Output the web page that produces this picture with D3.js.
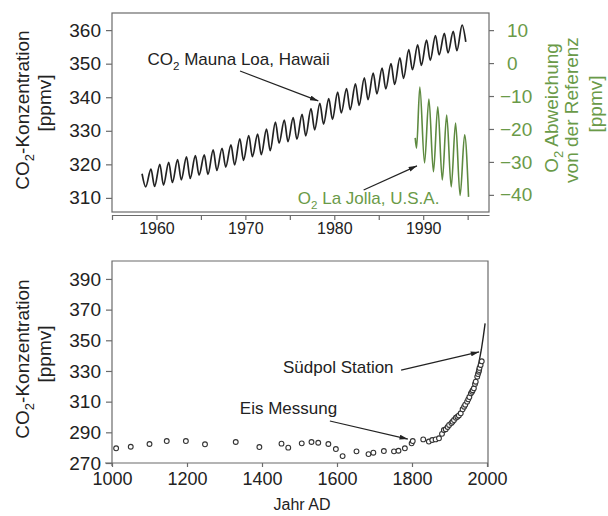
<!DOCTYPE html>
<meta charset="utf-8">
<style>
body { margin: 0; background: #fff; }
text { font-family: "Liberation Sans", Arial, sans-serif; }
</style>
<body id="chart"></body>
<script src="https://cdn.jsdelivr.net/npm/d3@7"></script>
<script>
// Mauna Loa CO2: seasonal peak (spring) and trough (autumn) per year, ppmv
var mlYears = [1958,1959,1960,1961,1962,1963,1964,1965,1966,1967,1968,1969,1970,1971,1972,1973,1974,1975,
               1976,1977,1978,1979,1980,1981,1982,1983,1984,1985,1986,1987,1988,1989,1990,1991,1992,1993,1994];
var mlPeak = [317.2,318.6,320.0,320.6,321.4,322.2,322.6,322.8,324.3,324.8,325.8,327.6,328.6,329.0,330.5,332.6,333.2,333.9,
              334.9,336.6,338.2,339.6,341.5,342.6,344.0,345.8,347.2,348.7,350.0,351.7,354.2,355.6,357.0,358.4,359.0,359.6,361.5];
var mlTrough = [313.3,313.4,313.8,314.6,315.4,315.8,316.8,317.0,318.2,319.2,319.8,321.2,322.3,322.9,324.1,326.3,326.8,327.5,
                328.5,330.3,332.0,333.4,335.3,336.3,337.6,339.3,341.0,342.5,343.8,345.6,348.2,349.5,351.0,352.6,353.2,353.9,356.5];

// La Jolla O2 deviation from reference, ppmv
var o2Years = [1989.10,1989.25,1989.62,1990.15,1990.64,1991.15,1991.64,1992.15,1992.64,1993.15,1993.64,1994.15,1994.66,1995.10];
var o2Dev = [-22.7,-25.8,-7.3,-30.3,-10.9,-33.0,-13.3,-35.5,-15.8,-37.6,-18.2,-40.2,-21.8,-40.6];

// ice core CO2 (Eis Messung)
var iceYears = [1011,1050,1100,1146,1197,1248,1330,1393,1452,1470,1506,1532,1550,1577,1597,1615,1652,1684,1697,1725,
                1752,1764,1781,1799,1802,1830,1845,1854,1863,1872,1880,1885,1890,1895,1899,1905,1908,1912,1917,1921,
                1925,1930,1935,1939,1942,1947,1950,1953,1957,1960,1962,1965,1968,1970,1974,1976,1978,1979,1980,1983,1986];
var iceCO2 = [279.6,280.6,282.4,284.3,284.3,282.2,283.7,280.4,282.6,280.0,282.8,283.7,283.2,282.4,279.1,274.5,277.6,275.8,276.7,277.8,
              277.6,278.0,279.6,282.8,284.3,285.4,284.0,285.0,285.4,286.1,289.0,291.5,292.0,293.5,294.8,296.0,296.9,298.0,299.5,300.2,
              301.0,302.4,305.0,306.7,308.0,310.0,311.5,313.0,315.4,316.5,317.5,318.7,321.5,323.0,326.3,328.0,329.5,330.6,332.0,333.9,336.3];

// South Pole station record
var spYears = [1958,1965,1970,1975,1980,1985,1990,1995];
var spCO2 = [315.0,319.5,324.5,330.5,337.5,344.0,352.0,361.0];

// tick values
var topXTicks = [1955,1960,1965,1970,1975,1980,1985,1990,1995];
var topYTicks = [310,320,330,340,350,360];
var o2Ticks = [10,0,-10,-20,-30,-40];
var botXTicks = [1000,1200,1400,1600,1800,2000];
var botYTicks = [270,290,310,330,350,370,390];

var width = 608, height = 516;
var green = "#6a9a48", frameCol = "#6b6b6b";

var svg = d3.select("#chart").append("svg")
    .attr("width", width)
    .attr("height", height);

var defs = svg.append("defs");
defs.append("marker")
    .attr("id", "arrow")
    .attr("viewBox", "0 0 10 6")
    .attr("refX", 10).attr("refY", 3)
    .attr("markerWidth", 9).attr("markerHeight", 5)
    .attr("markerUnits", "userSpaceOnUse")
    .attr("orient", "auto")
  .append("path")
    .attr("d", "M0,0L10,3L0,6Z")
    .attr("fill", "#222");

//scales, top panel
var xTop = d3.scaleLinear().domain([1955, 1997.4]).range([112, 489]);
var yTop = d3.scaleLinear().domain([305.8, 365.1]).range([212, 13]);
var yO2 = d3.scaleLinear().domain([-45.2, 15.2]).range([212, 13]);

//scales, bottom panel
var xBot = d3.scaleLinear().domain([1000, 2002.7]).range([112, 488]);
var yBot = d3.scaleLinear().domain([270, 401.7]).range([463, 261]);

// helper for text with a subscript 2 in CO2 / O2
function chem(sel, pre, post, size) {
    sel.append("tspan").text(pre);
    sel.append("tspan").attr("font-size", size * 0.68).attr("dy", size * 0.28).text("2");
    sel.append("tspan").attr("dy", -size * 0.28).text(post);
    return sel;
}

function styleAxis(g, col) {
    g.select(".domain").attr("stroke", frameCol).attr("stroke-width", 1.2);
    g.selectAll(".tick line").attr("stroke", frameCol).attr("stroke-width", 1.2);
    g.selectAll(".tick text").attr("fill", col || "#222");
}

//---- top panel ----
svg.append("rect")
    .attr("x", xTop.range()[0]).attr("y", 13)
    .attr("width", 489 - 112).attr("height", 212 - 13)
    .attr("fill", "none").attr("stroke", frameCol).attr("stroke-width", 1.2);

var gxTop = svg.append("g")
    .attr("transform", "translate(0,215)")
    .call(d3.axisBottom(xTop).tickValues(topXTicks).tickSize(5).tickSizeOuter(0)
        .tickFormat(function (d) { return d % 10 === 0 ? d : ""; }));
gxTop.selectAll(".tick text").attr("font-size", 16).attr("font-family", "Liberation Sans, Arial, sans-serif");
styleAxis(gxTop);

var gyTop = svg.append("g")
    .attr("transform", "translate(112,0)")
    .call(d3.axisLeft(yTop).tickValues(topYTicks).tickSize(6).tickPadding(5).tickSizeOuter(0));
gyTop.select(".domain").remove();
gyTop.selectAll(".tick text").attr("font-size", 19).attr("font-family", "Liberation Sans, Arial, sans-serif");
styleAxis(gyTop);

var gyO2 = svg.append("g")
    .attr("transform", "translate(489,0)")
    .call(d3.axisRight(yO2).tickValues(o2Ticks).tickSize(5).tickSizeOuter(0));
gyO2.select(".domain").remove();
gyO2.selectAll(".tick text")
    .attr("font-size", 19).attr("font-family", "Liberation Sans, Arial, sans-serif")
    .attr("x", function (d) { return d < 0 ? 11 : 18; });
styleAxis(gyO2, green);

// Mauna Loa line, peaks in May and troughs in October
var mlPts = [];
mlYears.forEach(function (y, i) {
    mlPts.push([y + 0.38, mlPeak[i]]);
    mlPts.push([y + 0.79, mlTrough[i]]);
});
svg.append("path")
    .datum(mlPts)
    .attr("fill", "none")
    .attr("stroke", "#222")
    .attr("stroke-width", 1.7)
    .attr("d", d3.line().curve(d3.curveMonotoneX)
        .x(function (d) { return xTop(d[0]); })
        .y(function (d) { return yTop(d[1]); }));

// La Jolla O2 line
svg.append("path")
    .datum(o2Years.map(function (y, i) { return [y, o2Dev[i]]; }))
    .attr("fill", "none")
    .attr("stroke", "#5e8a40")
    .attr("stroke-width", 1.6)
    .attr("d", d3.line().curve(d3.curveMonotoneX)
        .x(function (d) { return xTop(d[0]); })
        .y(function (d) { return yO2(d[1]); }));

// annotations top
chem(svg.append("text").attr("x", xTop(1959.0)).attr("y", yTop(349.6))
    .attr("font-size", 17).attr("fill", "#222"), "CO", " Mauna Loa, Hawaii", 17);
svg.append("line")
    .attr("x1", xTop(1969.4)).attr("y1", yTop(347.8))
    .attr("x2", xTop(1978.2)).attr("y2", yTop(338.9))
    .attr("stroke", "#222").attr("stroke-width", 1.2)
    .attr("marker-end", "url(#arrow)");

chem(svg.append("text").attr("x", xTop(1975.9)).attr("y", yO2(-42.7))
    .attr("font-size", 17).attr("fill", green), "O", " La Jolla, U.S.A.", 17);
svg.append("line")
    .attr("x1", xTop(1983.3)).attr("y1", yO2(-38.5))
    .attr("x2", xTop(1989.3)).attr("y2", yO2(-31.2))
    .attr("stroke", "#222").attr("stroke-width", 1.2)
    .attr("marker-end", "url(#arrow)");

// axis titles top
chem(svg.append("text").attr("transform", "translate(29,110) rotate(-90)")
    .attr("text-anchor", "middle").attr("font-size", 19).attr("fill", "#222"), "CO", "-Konzentration", 19);
svg.append("text").attr("transform", "translate(51,103) rotate(-90)")
    .attr("text-anchor", "middle").attr("font-size", 19).attr("fill", "#222").text("[ppmv]");

chem(svg.append("text").attr("transform", "translate(558,108) rotate(-90)")
    .attr("text-anchor", "middle").attr("font-size", 19).attr("fill", green), "O", " Abweichung", 19);
svg.append("text").attr("transform", "translate(578,110) rotate(-90)")
    .attr("text-anchor", "middle").attr("font-size", 19).attr("fill", green).text("von der Referenz");
svg.append("text").attr("transform", "translate(602,104) rotate(-90)")
    .attr("text-anchor", "middle").attr("font-size", 19).attr("fill", green).text("[ppmv]");

//---- bottom panel ----
svg.append("path")
    .attr("d", "M112,466V261H488V467")
    .attr("fill", "none").attr("stroke", frameCol).attr("stroke-width", 1.2);

var gxBot = svg.append("g")
    .attr("transform", "translate(0,463)")
    .call(d3.axisBottom(xBot).tickValues(botXTicks).tickSize(4).tickPadding(5).tickSizeOuter(0)
        .tickFormat(d3.format("d")));
gxBot.select(".domain").attr("d", "M105,0H488");
gxBot.selectAll(".tick text").attr("font-size", 18).attr("font-family", "Liberation Sans, Arial, sans-serif");
styleAxis(gxBot);

var gyBot = svg.append("g")
    .attr("transform", "translate(112,0)")
    .call(d3.axisLeft(yBot).tickValues(botYTicks).tickSize(6).tickPadding(5).tickSizeOuter(0));
gyBot.select(".domain").remove();
gyBot.selectAll(".tick text").attr("font-size", 19).attr("font-family", "Liberation Sans, Arial, sans-serif");
styleAxis(gyBot);

// South Pole line
svg.append("path")
    .datum(spYears.map(function (y, i) { return [y, spCO2[i]]; }))
    .attr("fill", "none")
    .attr("stroke", "#222")
    .attr("stroke-width", 1.4)
    .attr("d", d3.line()
        .x(function (d) { return xBot(d[0]); })
        .y(function (d) { return yBot(d[1]); }));

// ice core points
svg.append("g")
    .selectAll("circle")
    .data(iceYears)
    .enter().append("circle")
    .attr("cx", function (d) { return xBot(d); })
    .attr("cy", function (d, i) { return yBot(iceCO2[i]); })
    .attr("r", 2.4)
    .attr("fill", "#fff")
    .attr("stroke", "#333")
    .attr("stroke-width", 1.1);

// annotations bottom
svg.append("text").attr("x", xBot(1341)).attr("y", yBot(301.9))
    .attr("font-size", 17).attr("fill", "#222").text("Eis Messung");
svg.append("line")
    .attr("x1", xBot(1581)).attr("y1", yBot(297.4))
    .attr("x2", xBot(1789)).attr("y2", yBot(285.6))
    .attr("stroke", "#222").attr("stroke-width", 1.2)
    .attr("marker-end", "url(#arrow)");

svg.append("text").attr("x", xBot(1456)).attr("y", yBot(328.7))
    .attr("font-size", 17).attr("fill", "#222").text("Südpol Station");
svg.append("line")
    .attr("x1", xBot(1771)).attr("y1", yBot(330.6))
    .attr("x2", xBot(1979)).attr("y2", yBot(342.4))
    .attr("stroke", "#222").attr("stroke-width", 1.2)
    .attr("marker-end", "url(#arrow)");

// axis titles bottom
chem(svg.append("text").attr("transform", "translate(29,359) rotate(-90)")
    .attr("text-anchor", "middle").attr("font-size", 19).attr("fill", "#222"), "CO", "-Konzentration", 19);
svg.append("text").attr("transform", "translate(51,354) rotate(-90)")
    .attr("text-anchor", "middle").attr("font-size", 19).attr("fill", "#222").text("[ppmv]");

svg.append("text").attr("x", 302).attr("y", 510)
    .attr("text-anchor", "middle").attr("font-size", 16).attr("fill", "#222").text("Jahr AD");
</script>
